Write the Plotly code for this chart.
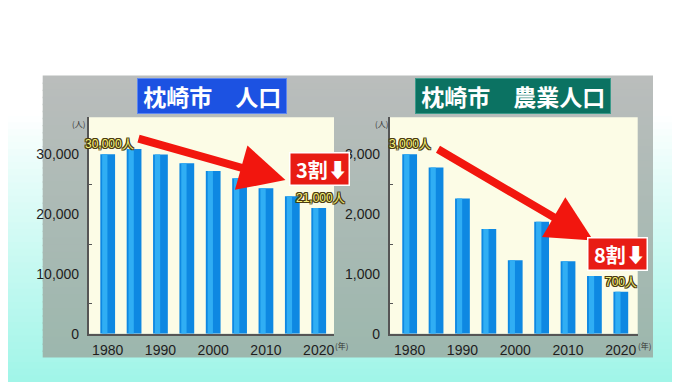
import plotly.graph_objects as go

years = [1980, 1985, 1990, 1995, 2000, 2005, 2010, 2015, 2020]
population = [30000, 30900, 29950, 28500, 27200, 26000, 24300, 23000, 21000]
farm_population = [3000, 2780, 2260, 1750, 1230, 1870, 1210, 965, 700]
left_ticks = [0, 10000, 20000, 30000]
left_ticktext = ["0", "10,000", "20,000", "30,000"]
right_ticks = [0, 1000, 2000, 3000]
right_ticktext = ["0", "1,000", "2,000", "3,000"]
xticks = [1980, 1990, 2000, 2010, 2020]

W, H = 680, 382
NARROW = "Liberation Sans Narrow, Liberation Sans, Arial, sans-serif"
JP = "Noto Sans CJK JP, sans-serif"

fig = go.Figure()

def add_bars(data, xa, ya):
    fig.add_trace(go.Bar(x=years, y=data, width=2.8, offset=-1.4,
                         marker=dict(color="#0e88e2", line=dict(width=0)),
                         xaxis=xa, yaxis=ya, hoverinfo="skip"))
    fig.add_trace(go.Bar(x=years, y=data, width=1.0, offset=-1.05,
                         marker=dict(color="#30aef4", line=dict(width=0)),
                         xaxis=xa, yaxis=ya, hoverinfo="skip"))

add_bars(population, "x", "y")
add_bars(farm_population, "x2", "y2")

shapes = []
def lerp(c0, c1, t):
    return tuple(round(a + (b - a) * t) for a, b in zip(c0, c1))

ov = 1.5 / H
n = 40
for i in range(n):
    y0 = 110 + (H - 110) * i / n
    y1 = 110 + (H - 110) * (i + 1) / n
    t = (i + 0.5) / n
    c = lerp((255, 255, 255), (160, 245, 232), t ** 0.9)
    shapes.append(dict(type="rect", xref="paper", yref="paper", layer="below",
                       x0=0, x1=1, y0=1 - y1 / H - ov, y1=1 - y0 / H,
                       fillcolor="rgb(%d,%d,%d)" % c, line=dict(width=0)))
pt, pb = 69, 357
for i in range(n):
    y0 = pt + (pb - pt) * i / n
    y1 = pt + (pb - pt) * (i + 1) / n
    t = (i + 0.5) / n
    c = lerp((186, 189, 188), (156, 183, 173), t)
    yb = 1 - y1 / H - (ov if i < n - 1 else 0)
    shapes.append(dict(type="rect", xref="paper", yref="paper", layer="below",
                       x0=34.7 / W, x1=645 / W, y0=yb, y1=1 - y0 / H,
                       fillcolor="rgb(%d,%d,%d)" % c, line=dict(width=0)))
for xa, ya in [("x", "y"), ("x2", "y2")]:
    shapes.append(dict(type="rect", xref=xa + " domain", yref=ya + " domain", layer="below",
                       x0=0, x1=1, y0=0, y1=1, fillcolor="#fcfce6", line=dict(width=0)))

axis_common = dict(showgrid=False, zeroline=False, showline=True, linecolor="#555555",
                   linewidth=1.5, tickfont=dict(family=NARROW, size=14, color="#1e1e1e"))

fig.update_layout(
    width=W, height=H, margin=dict(l=0, r=0, t=0, b=0),
    paper_bgcolor="white", plot_bgcolor="#fcfce6",
    barmode="overlay", showlegend=False, shapes=shapes,
    xaxis=dict(domain=[80.7 / W, 326 / W], range=[1976.4, 2022.9], anchor="y",
               tickvals=xticks, ticks="", ticklabelstandoff=3, **axis_common),
    yaxis=dict(domain=[1 - 332.7 / H, 1 - 111.7 / H], range=[0, 36170], anchor="x",
               tickvals=left_ticks, ticktext=left_ticktext, ticks="",
               minor=dict(ticks="inside", tickvals=[5000, 15000, 25000], ticklen=4,
                          tickcolor="#555555"),
               ticklabelstandoff=5, **axis_common),
    xaxis2=dict(domain=[381.6 / W, 629.7 / W], range=[1976.2, 2023.2], anchor="y2",
                tickvals=xticks, ticks="", ticklabelstandoff=3, **axis_common),
    yaxis2=dict(domain=[1 - 332.7 / H, 1 - 111.7 / H], range=[0, 3617], anchor="x2",
                tickvals=right_ticks, ticktext=right_ticktext, ticks="",
                minor=dict(ticks="inside", tickvals=[500, 1500, 2500], ticklen=4,
                           tickcolor="#555555"),
                ticklabelstandoff=5, **axis_common),
)

ann = []
def title_box(text, cx, cy, bg, border):
    ann.append(dict(text=text, xref="paper", yref="paper", x=cx / W, y=1 - cy / H,
                    xanchor="center", yanchor="middle", showarrow=False,
                    font=dict(family=JP, size=23, color="white", weight="bold"),
                    bgcolor=bg, bordercolor=border, borderwidth=1, borderpad=0))

title_box(" 枕崎市　人口 ", 203.6, 89.5, "#1c52e2", "#5c86f0")
title_box(" 枕崎市　農業人口 ", 504.5, 89.5, "#0b7262", "#3c9a8a")

for x, y, t in [(70.7, 118, "(人)"), (373, 118, "(人)"), (333, 345, "(年)"), (636, 345, "(年)")]:
    ann.append(dict(text=t, xref="paper", yref="paper", x=x / W, y=1 - y / H,
                    xanchor="center", yanchor="middle", showarrow=False,
                    font=dict(family=JP, size=8, color="#333333")))

oc = "#4a3a10"
outline = ", ".join("%dpx %dpx 0 %s" % (a, b, oc) for a, b in
                    [(1, 1), (-1, -1), (1, -1), (-1, 1), (0, 1), (0, -1), (1, 0), (-1, 0)])
def value_label(text, x, y, xa, ya, dx=0):
    ann.append(dict(text=text, xref=xa, yref=ya, x=x, y=y, xanchor="center",
                    yanchor="bottom", showarrow=False, xshift=dx, yshift=1,
                    font=dict(family=NARROW, size=12, color="#f6f27c", shadow=outline)))

value_label("30,000人", years[0], population[0], "x", "y", 1.5)
value_label("21,000人", years[-1], population[-1], "x", "y", 2)
value_label("3,000人", years[0], farm_population[0], "x2", "y2", 0.5)
value_label("700人", years[-1], farm_population[-1], "x2", "y2", 0)

ann.append(dict(xref="x", yref="y", axref="x", ayref="y",
                ax=1985.56, ay=32670, x=2013.7, y=25680, text="",
                showarrow=True, arrowhead=2, arrowsize=1.15, arrowwidth=8, arrowcolor="#f2160e",
                standoff=0, startstandoff=0))
ann.append(dict(xref="x2", yref="y2", axref="x2", ayref="y2",
                ax=1985.08, ay=3098, x=2014.8, y=1560, text="",
                showarrow=True, arrowhead=2, arrowsize=1.15, arrowwidth=8, arrowcolor="#f2160e",
                standoff=0, startstandoff=0))

def badge(text, cx, cy):
    ann.append(dict(text=text, xref="paper", yref="paper", x=cx / W, y=1 - cy / H,
                    xanchor="center", yanchor="middle", showarrow=False,
                    font=dict(family=JP, size=20, color="white", weight="bold"),
                    bgcolor="#e81c14", bordercolor="#ffffff", borderwidth=1.5, borderpad=1))

badge(" 3割⬇", 311.5, 164.5)
badge(" 8割⬇", 609.8, 250.8)

fig.update_layout(annotations=ann)
fig.write_html("out.html")
